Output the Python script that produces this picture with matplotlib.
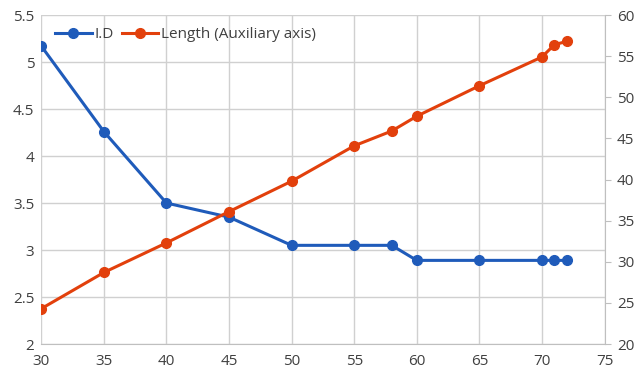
import matplotlib.pyplot as plt

plt.rcParams["font.family"] = ["Open Sans", "DejaVu Sans"]

# Sample positions and measured values
x_vals = [30, 35, 40, 45, 50, 55, 58, 60, 65, 70, 71, 72]
inner_dia = [5.17, 4.26, 3.50, 3.35, 3.05, 3.05, 3.05, 2.89, 2.89, 2.89, 2.89, 2.89]
length = [24.3, 28.7, 32.3, 36.1, 39.8, 44.1, 45.9, 47.7, 51.4, 54.9, 56.4, 56.8]

blue = "#1F5BBA"
orange = "#E2400C"
grid_c = "#D0D0D0"
text_c = "#404040"

fig = plt.figure(figsize=(6.35, 3.76), dpi=100)
ax = fig.add_axes([0.065, 0.085, 0.887, 0.875])
ax2 = ax.twinx()

l1, = ax.plot(x_vals, inner_dia, color=blue, lw=2.2, marker="o", ms=7, label="I.D", zorder=3)
l2, = ax2.plot(x_vals, length, color=orange, lw=2.2, marker="o", ms=7,
               label="Length (Auxiliary axis)", zorder=3)

ax.set_xlim(30, 75)
ax.set_ylim(2, 5.5)
ax2.set_ylim(20, 60)
ax.set_xticks(range(30, 76, 5))
ax.set_yticks([2, 2.5, 3, 3.5, 4, 4.5, 5, 5.5])
ax.set_yticklabels(["2", "2.5", "3", "3.5", "4", "4.5", "5", "5.5"])
ax2.set_yticks(range(20, 61, 5))

ax.grid(True, color=grid_c, lw=1)
ax.set_axisbelow(True)
for a in (ax, ax2):
    for s in a.spines.values():
        s.set_visible(False)
ax.spines["bottom"].set_visible(True)
ax.spines["bottom"].set_color("#BFBFBF")
ax2.spines["right"].set_visible(True)
ax2.spines["right"].set_color("#BFBFBF")

ax.tick_params(axis="both", length=0, labelsize=11, colors=text_c, pad=7)
ax.tick_params(axis="y", pad=5)
ax2.tick_params(axis="y", length=4, color="#BFBFBF", labelsize=11, colors=text_c, pad=5)

ax.legend(handles=[l1, l2], loc="upper left", ncol=2, frameon=False, fontsize=11,
          handlelength=2.4, columnspacing=0.5, handletextpad=0.2,
          bbox_to_anchor=(0.0, 1.005), labelcolor=text_c)

fig.savefig("out.png", dpi=100)
